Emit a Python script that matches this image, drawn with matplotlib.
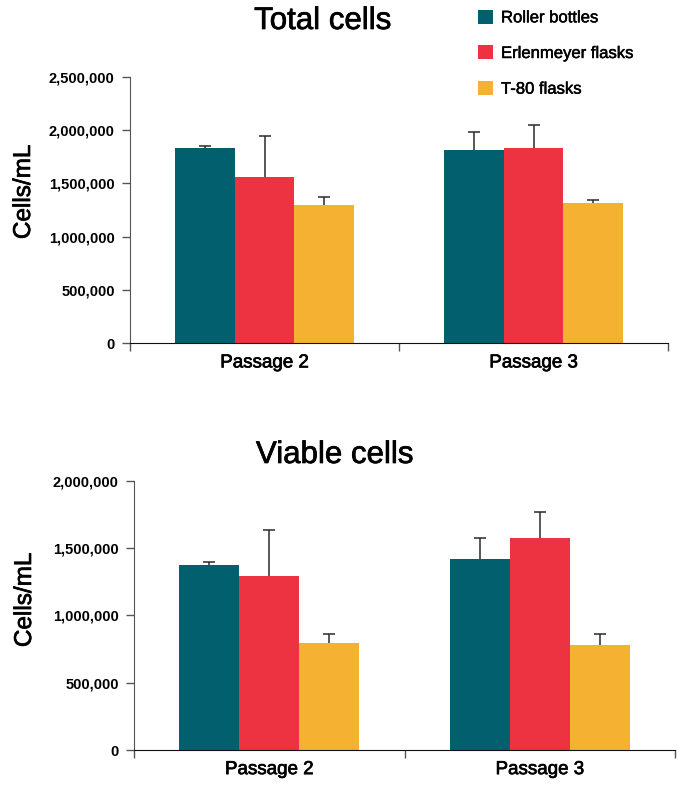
import matplotlib.pyplot as plt
import matplotlib.patheffects as pe
from matplotlib.ticker import StrMethodFormatter
import numpy as np

plt.rcParams['font.family'] = ['Liberation Sans', 'DejaVu Sans']

passages = ['Passage 2', 'Passage 3']
series = ['Roller bottles', 'Erlenmeyer flasks', 'T-80 flasks']
colors = ['#02606E', '#ED3241', '#F5B232']

# Total cells (mean, upper error)
total_mean = [[1828000, 1813000], [1560000, 1832000], [1297000, 1316000]]
total_err = [[25000, 172000], [381000, 212000], [75000, 25000]]

# Viable cells
viable_mean = [[1374000, 1419000], [1293000, 1575000], [795000, 780000]]
viable_err = [[23000, 158000], [341000, 195000], [69000, 84000]]

# slightly heavier strokes, the original looks like Helvetica Medium
heavy = [pe.withStroke(linewidth=0.5, foreground='black')]


def draw_panel(ax, means, errs, ymax, step):
    x = np.arange(len(passages))
    w = 0.222
    bars = []
    for i in range(len(series)):
        b = ax.bar(x + (i - 1) * w, means[i], w, color=colors[i], label=series[i],
                   yerr=[np.zeros(len(passages)), errs[i]], capsize=4,
                   error_kw=dict(ecolor='#2a2a2a', elinewidth=1.1, capthick=1.1))
        # hide the lower caps, only the upper half of the bar is shown
        caps = b.errorbar.lines[1]
        caps[0].set_visible(False)
        bars.append(b)
    ax.set_xlim(-0.5, 1.5)
    ax.set_ylim(0, ymax)
    ax.set_yticks(np.arange(0, ymax + 1, step))
    ax.yaxis.set_major_formatter(StrMethodFormatter('{x:,.0f}'))
    ax.set_xticks([-0.5, 0.5, 1.5])
    ax.set_xticklabels([])
    ax.set_xticks(x, minor=True)
    ax.set_xticklabels(passages, minor=True, fontsize=13.5)
    for lab in ax.get_xticklabels(minor=True):
        lab.set_path_effects(heavy)
    ax.tick_params(axis='x', which='minor', length=0, pad=8)
    ax.tick_params(axis='x', which='major', length=6, color='#555555', width=1)
    ax.tick_params(axis='y', length=6, color='#555555', width=1, pad=5)
    for lab in ax.get_yticklabels():
        lab.set_fontsize(10.5)
        lab.set_fontweight('bold')
    ax.spines['top'].set_visible(False)
    ax.spines['right'].set_visible(False)
    ax.spines['left'].set_color('#555555')
    ax.spines['bottom'].set_color('#111111')
    return bars


fig = plt.figure(figsize=(6.8, 7.94), dpi=100)

ax1 = fig.add_axes([130 / 680, 1 - 343.3 / 794, (668 - 130) / 680, (343.3 - 76.7) / 794])
bars = draw_panel(ax1, total_mean, total_err, 2500000, 500000)

ax2 = fig.add_axes([134 / 680, 1 - 750 / 794, (675 - 134) / 680, (750 - 480.7) / 794])
draw_panel(ax2, viable_mean, viable_err, 2000000, 500000)

fig.text(323 / 680, 1 - 21 / 794, 'Total cells', fontsize=22.5, ha='center', va='center',
         path_effects=heavy)
fig.text(335 / 680, 1 - 455 / 794, 'Viable cells', fontsize=22.5, ha='center', va='center',
         path_effects=heavy)

fig.text(24 / 680, 1 - 192 / 794, 'Cells/mL', fontsize=17.5, rotation=90, ha='center',
         va='center', path_effects=heavy)
fig.text(25 / 680, 1 - 600 / 794, 'Cells/mL', fontsize=17.5, rotation=90, ha='center',
         va='center', path_effects=heavy)

leg = fig.legend(handles=bars, labels=series, loc='upper left',
                 bbox_to_anchor=(471 / 680, 1 - 3 / 794), frameon=False,
                 fontsize=12, handlelength=0.9, handleheight=0.9,
                 handletextpad=0.5, labelspacing=1.2, borderaxespad=0)
for t in leg.get_texts():
    t.set_path_effects([pe.withStroke(linewidth=0.35, foreground='black')])

fig.savefig('out.png', dpi=100)
